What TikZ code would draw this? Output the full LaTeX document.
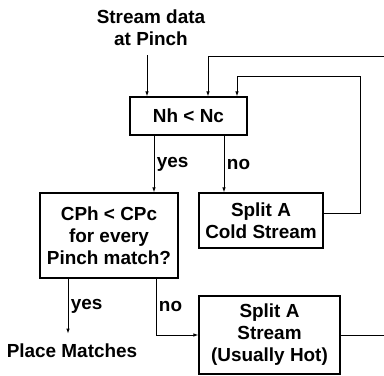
\documentclass[tikz,border=0pt]{standalone}
\usepackage{fontspec}
\setmainfont{Liberation Sans}
\usetikzlibrary{arrows.meta}

\begin{document}
\begin{tikzpicture}[x=1bp, y=-1bp, line width=0.9bp,
  every node/.style={font=\fontsize{19}{22}\selectfont\bfseries},
  box/.style={draw, line width=1.1bp, align=center, inner sep=0pt},
  arr/.style={-{Latex[length=5bp,width=3.5bp]}},
  lbl/.style={right, inner sep=2.5bp}]
\useasboundingbox (0,0) rectangle (384,376);

\node[anchor=south, align=center, inner xsep=1bp, inner ysep=9bp] (data) at (151,55) {Stream data\\at Pinch};
\node[box, minimum width=117bp, minimum height=38bp] (nn) at (188.5,116) {Nh < Nc};
\node[box, minimum width=138bp, minimum height=85bp] (cph) at (109,235.5) {CPh < CPc\\for every\\Pinch match?};
\node[box, minimum width=124bp, minimum height=55bp] (cold) at (261,220.5) {Split A\\Cold Stream};
\node[box, minimum width=141bp, minimum height=78bp] (split) at (269.5,335) {Split A\\Stream\\(Usually Hot)};
\node[inner xsep=1bp, inner ysep=10bp] (place) at (72,351) {Place Matches};
\coordinate (in) at ([xshift=-41.5bp]nn.north);
\coordinate (top) at (384,56);
\coordinate (bot) at (384,335);

\draw[arr] (in |- data.south) -- (in);
\draw[arr] (top) -| ([xshift=19.5bp]nn.north);
\draw[arr] ([yshift=7.5bp]cold.east) -| (360,76) -| ([xshift=48.5bp]nn.north);
\draw[arr] ([xshift=-34.5bp]nn.south) -- ([xshift=-34.5bp]nn.south |- cph.north) node[lbl, midway] {yes};
\draw[arr] ([xshift=35.5bp]nn.south) -- ([xshift=35.5bp]nn.south |- cold.north) node[lbl, midway] {no};
\draw[arr] ([xshift=-41bp]cph.south) -- ([xshift=-41bp]cph.south |- place.north) node[lbl, midway] {yes};
\draw[arr] ([xshift=47bp]cph.south) |- (split.west) node[lbl, pos=0.25] {no};
\draw (split.east) -- (bot);
\end{tikzpicture}
\end{document}
